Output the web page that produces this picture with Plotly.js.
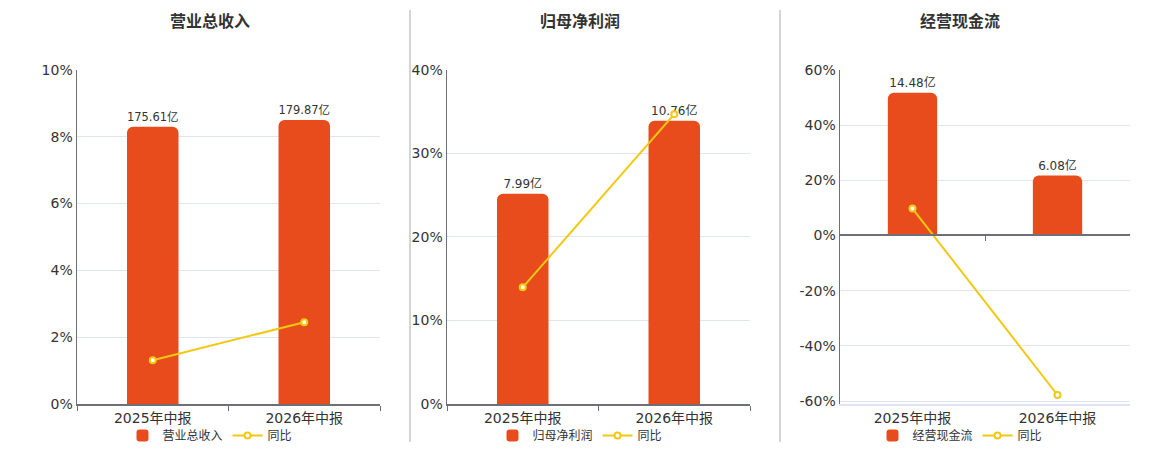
<!DOCTYPE html>
<html>
<head>
<meta charset="utf-8">
<script src="https://cdn.plot.ly/plotly-3.0.1.min.js"></script>
<style>
  body { margin: 0; background: #fff; }
  #chart { width: 1160px; height: 450px; }
</style>
</head>
<body>
<div id="chart"></div>
<script>
// periods and values
var periods = ['2025年中报', '2026年中报'];
var titles = ['营业总收入', '归母净利润', '经营现金流'];

var revenue = [175.61, 179.87];      // 亿
var revenueYoy = [1.31, 2.45];       // %
var profit = [7.99, 10.76];
var profitYoy = [13.97, 34.7];
var cashflow = [14.48, 6.08];
var cashflowYoy = [9.76, -57.8];

var barColor = '#E84C1C';
var lineColor = '#F2C811';
var font = 'DejaVu Sans, Noto Sans CJK SC, sans-serif';

function barTrace(vals, name, xa, ya, lg) {
  return {
    type: 'bar', x: periods, y: vals, name: name,
    xaxis: xa, yaxis: ya, legend: lg,
    marker: { color: barColor, cornerradius: 6 },
    text: vals.map(v => v.toFixed(2) + '亿'),
    textposition: 'outside', cliponaxis: false,
    textfont: { size: 12, color: '#333', family: font },
    hoverinfo: 'skip'
  };
}
function lineTrace(vals, xa, ya, lg) {
  return {
    type: 'scatter', mode: 'lines+markers', x: periods, y: vals, name: '同比',
    xaxis: xa, yaxis: ya, legend: lg,
    line: { color: lineColor, width: 2 },
    marker: { size: 6, color: '#fff', line: { color: lineColor, width: 2 } },
    hoverinfo: 'skip'
  };
}

var data = [
  barTrace(revenue, titles[0], 'x', 'y', 'legend'),
  lineTrace(revenueYoy, 'x', 'y4', 'legend'),
  barTrace(profit, titles[1], 'x2', 'y2', 'legend2'),
  lineTrace(profitYoy, 'x2', 'y5', 'legend2'),
  barTrace(cashflow, titles[2], 'x3', 'y3', 'legend3'),
  lineTrace(cashflowYoy, 'x3', 'y6', 'legend3'),
  // empty trace so the zero-line axis of the cash flow chart gets drawn
  { type: 'scatter', mode: 'none', x: periods, y: [0, 0], xaxis: 'x4', yaxis: 'y3',
    showlegend: false, hoverinfo: 'skip' }
];

var W = 1160, H = 450;
var yDom = [1 - 405 / H, 1 - 70 / H];
var doms = [[77 / W, 380 / W], [447 / W, 750 / W], [840 / W, 1130 / W]];

function xAxis(dom, anchor, lineColor, ticks) {
  return {
    domain: dom, anchor: anchor, type: 'category',
    showline: true, linecolor: lineColor, linewidth: 2,
    ticks: ticks ? 'outside' : '', tickson: 'boundaries', ticklen: 5, tickcolor: '#6e7079',
    tickfont: { size: 14, color: '#333', family: font },
    showgrid: false, fixedrange: true
  };
}
function hiddenY(range, anchor) {
  return { domain: yDom, anchor: anchor, range: range, visible: false, fixedrange: true };
}
function pctY(range, dtick, over, anchor, extra) {
  var a = {
    domain: yDom, anchor: anchor, overlaying: over, side: 'left', range: range,
    dtick: dtick, ticksuffix: '%', showline: true, linecolor: '#6e7079', linewidth: 1.5,
    ticks: '', gridcolor: '#e0e6f1', zeroline: false,
    tickfont: { size: 14, color: '#333', family: font }, fixedrange: true
  };
  return Object.assign(a, extra || {});
}
function legendAt(xc) {
  return {
    orientation: 'h', x: xc / W, xanchor: 'center', y: 1 - 436 / H, yanchor: 'middle',
    font: { size: 12, color: '#333', family: font }, itemwidth: 30, tracegroupgap: 0,
    bgcolor: 'rgba(0,0,0,0)'
  };
}

var cfTicks = [-60, -40, -20, 0, 20, 40, 60];

var layout = {
  width: W, height: H, margin: { l: 0, r: 0, t: 0, b: 0 },
  paper_bgcolor: '#fff', plot_bgcolor: '#fff',
  bargap: 0.66, font: { family: font, color: '#333' },
  xaxis: xAxis(doms[0], 'y', '#6e7079', true),
  xaxis2: xAxis(doms[1], 'y2', '#6e7079', true),
  xaxis3: xAxis(doms[2], 'y3', '#dfe5f0', false),
  // extra axis that only draws the zero line with its boundary ticks
  xaxis4: {
    domain: doms[2], anchor: 'free', overlaying: 'x3', type: 'category',
    position: yDom[0] + (yDom[1] - yDom[0]) * 61.1 / 121.1,
    tickson: 'boundaries', showticklabels: false,
    showline: true, linecolor: '#6e7079', linewidth: 2,
    ticks: 'outside', ticklen: 5, tickcolor: '#6e7079', showgrid: false, fixedrange: true
  },
  yaxis: hiddenY([0, 211.6], 'x'),
  yaxis2: hiddenY([0, 12.69], 'x2'),
  yaxis3: hiddenY([-17.1, 16.8], 'x3'),
  yaxis4: pctY([0, 10], 2, 'y', 'x'),
  yaxis5: pctY([0, 40], 10, 'y2', 'x2'),
  yaxis6: pctY([-61.1, 60], 20, 'y3', 'x3', {
    tickvals: cfTicks, ticktext: cfTicks.map(v => v + '%')
  }),
  legend: legendAt(210),
  legend2: legendAt(580),
  legend3: legendAt(960),
  annotations: titles.map((t, i) => ({
    text: '<b>' + t + '</b>', xref: 'paper', yref: 'paper',
    x: [210, 580, 960][i] / W, y: 1 - 22 / H, xanchor: 'center', yanchor: 'middle',
    showarrow: false, font: { size: 16, color: '#333', family: font }
  })),
  shapes: [410, 780].map(px => ({
    type: 'line', xref: 'paper', yref: 'paper',
    x0: px / W, x1: px / W, y0: 1 - 443 / H, y1: 1 - 10 / H,
    line: { color: '#aaa', width: 1 }
  }))
};

Plotly.newPlot('chart', data, layout, { displayModeBar: false, staticPlot: true });
</script>
</body>
</html>
